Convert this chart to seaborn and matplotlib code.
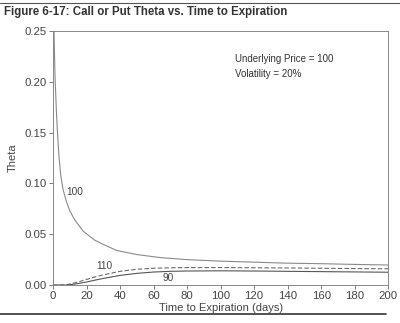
import matplotlib
matplotlib.use("Agg")
import matplotlib.pyplot as plt
from matplotlib.lines import Line2D
import seaborn as sns
import pandas as pd

# ---- data ----
days_100 = [0.4, 0.8, 1.2, 2, 2.6, 3.5, 4.6, 6, 8, 10, 13, 18, 25, 30, 38, 50,
            64, 80, 100, 120, 140, 160, 180, 200]
theta_100 = [0.27, 0.235, 0.205, 0.172, 0.152, 0.128, 0.108, 0.094, 0.082, 0.073,
             0.064, 0.053, 0.044, 0.040, 0.034, 0.030, 0.027, 0.025, 0.0235,
             0.0225, 0.0215, 0.021, 0.0203, 0.0197]

days_110 = [0, 5, 8, 10, 15, 20, 25, 30, 40, 50, 60, 70, 80, 100, 120, 140, 160, 180, 200]
theta_110 = [0, 0, 0.0003, 0.001, 0.003, 0.0055, 0.008, 0.010, 0.0135, 0.0155, 0.0165,
             0.017, 0.0172, 0.0172, 0.017, 0.0168, 0.0165, 0.0162, 0.016]

days_90 = [0, 8, 10, 15, 20, 25, 30, 40, 50, 60, 70, 80, 100, 120, 140, 160, 180, 200]
theta_90 = [0, 0, 0.0003, 0.0015, 0.003, 0.0048, 0.0065, 0.0095, 0.0115, 0.0128, 0.0135,
            0.0138, 0.014, 0.0138, 0.0135, 0.0132, 0.0129, 0.0126]

x_ticks = [0, 20, 40, 60, 80, 100, 120, 140, 160, 180, 200]
y_ticks = [0.00, 0.05, 0.10, 0.15, 0.20, 0.25]

title = "Figure 6-17: Call or Put Theta vs. Time to Expiration"
x_label = "Time to Expiration (days)"
y_label = "Theta"
note_lines = ["Underlying Price = 100", "Volatility = 20%"]
curve_labels = ["100", "110", "90"]
label_pos = [(13, 0.0915), (30.5, 0.0185), (68.5, 0.0065)]

# ---- plotting ----
sns.set_theme(style="white")
plt.rcParams["font.family"] = ["Liberation Sans", "DejaVu Sans"]

fig = plt.figure(figsize=(4.0, 3.23), dpi=100)
fig.patch.set_facecolor("white")
ax = fig.add_axes([0.1325, 0.1175, 0.838, 0.787])
ax.set_facecolor("white")

df100 = pd.DataFrame({"days": days_100, "theta": theta_100})
df110 = pd.DataFrame({"days": days_110, "theta": theta_110})
df90 = pd.DataFrame({"days": days_90, "theta": theta_90})

sns.lineplot(data=df100, x="days", y="theta", ax=ax, color="#8a8a8a", linewidth=0.8)
sns.lineplot(data=df110, x="days", y="theta", ax=ax, color="#6a6a6a", linewidth=0.8,
             linestyle=(0, (4, 2)))
sns.lineplot(data=df90, x="days", y="theta", ax=ax, color="#555555", linewidth=0.8)

ax.set_xlim(0, 200)
ax.set_ylim(0, 0.25)
ax.set_xticks(x_ticks)
ax.set_yticks(y_ticks)
ax.set_xticklabels([str(t) for t in x_ticks])
ax.set_yticklabels([f"{t:.2f}" for t in y_ticks])
ax.tick_params(axis="both", which="both", direction="out", length=3, width=0.6,
               color="#666666", labelsize=8.2, labelcolor="#444444", pad=1.5,
               bottom=True, left=True)
for s in ax.spines.values():
    s.set_color("#888888")
    s.set_linewidth(0.7)
    s.set_visible(True)

ax.set_xlabel(x_label, fontsize=8, color="#444444", labelpad=1)
ax.set_ylabel(y_label, fontsize=8, color="#444444", labelpad=5)

for txt, (x, y) in zip(curve_labels, label_pos):
    ax.text(x, y, txt, fontsize=7.3, color="#444444", ha="center", va="center")

ax.text(0.542, 0.888, note_lines[0], transform=ax.transAxes, fontsize=7,
        color="#333333", ha="left", va="center")
ax.text(0.542, 0.83, note_lines[1], transform=ax.transAxes, fontsize=7,
        color="#333333", ha="left", va="center")

fig.text(0.01, 0.962, title, fontsize=8.3, fontweight="bold", color="#333333",
         ha="left", va="center")

fig.add_artist(Line2D([0.0, 1.0], [0.991, 0.991], transform=fig.transFigure,
                      color="#555555", linewidth=0.8))
fig.add_artist(Line2D([0.0, 0.965], [0.027, 0.027], transform=fig.transFigure,
                      color="#333333", linewidth=1.2))

fig.savefig("out.png", dpi=100, facecolor="white")
